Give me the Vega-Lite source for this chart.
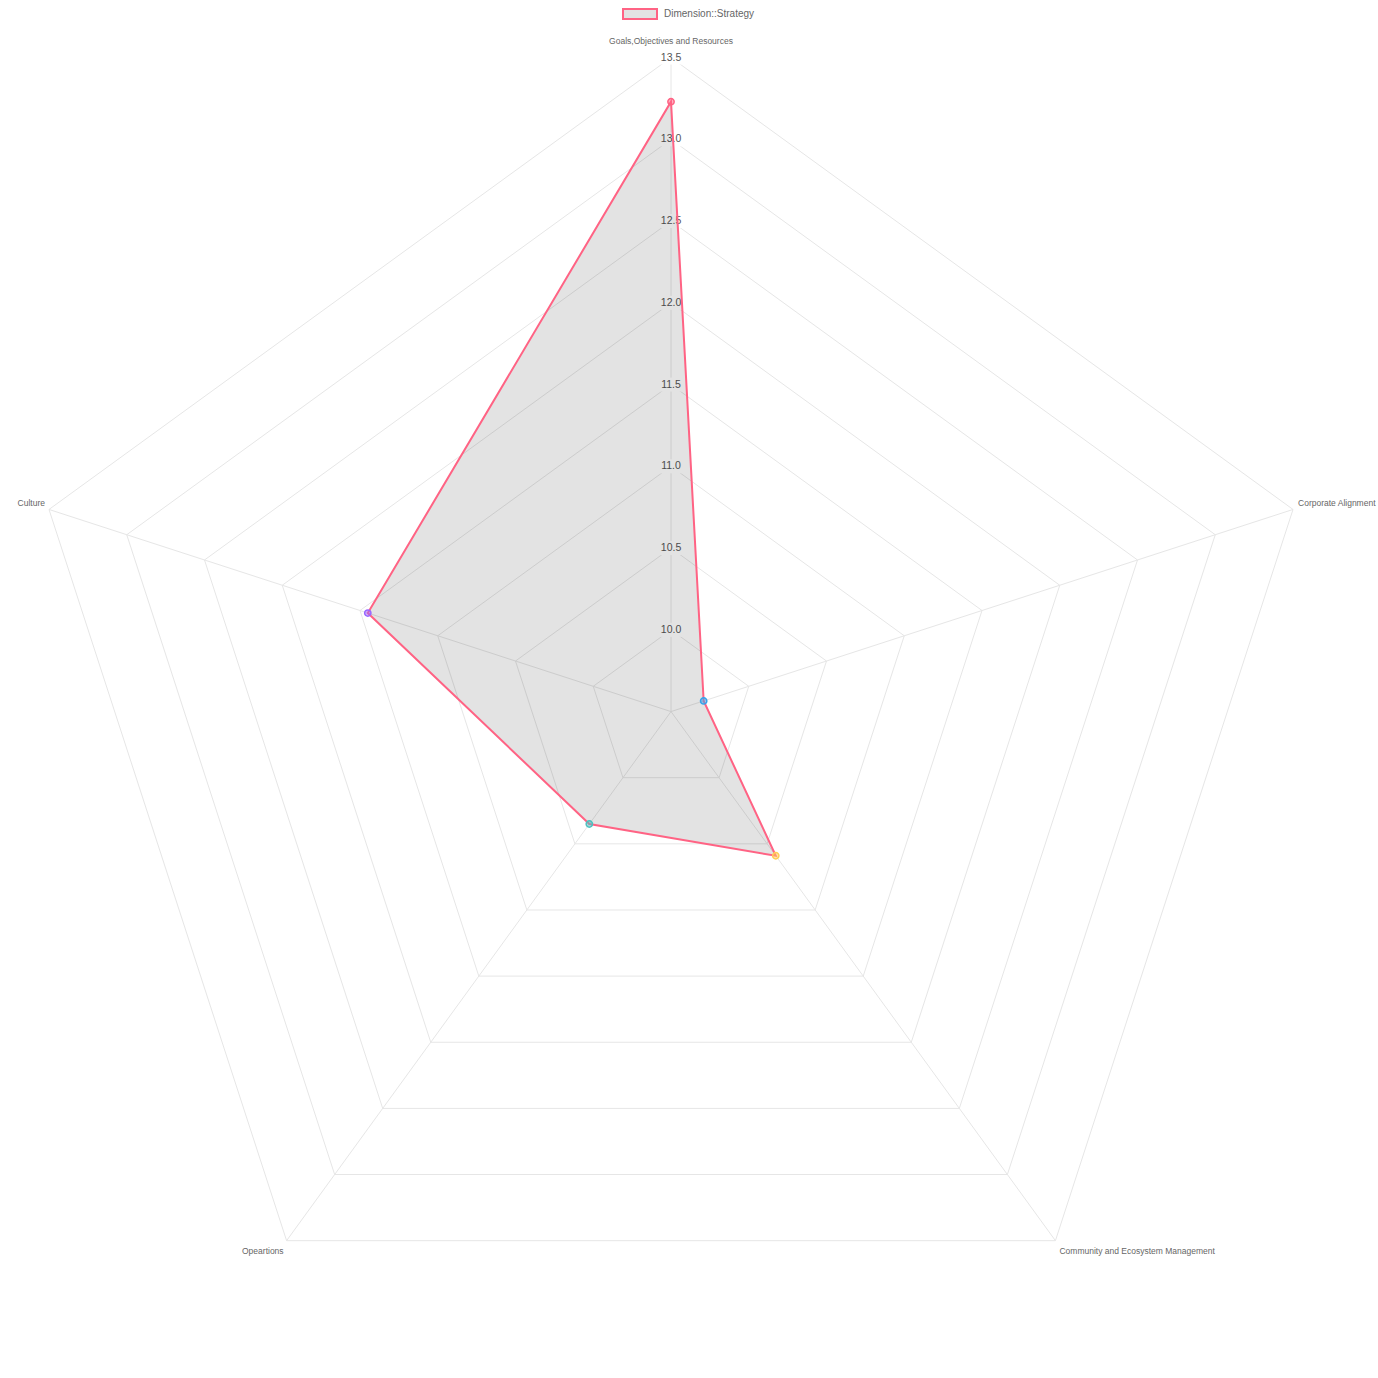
{
  "$schema": "https://vega.github.io/schema/vega-lite/v6.json",
  "width": 1378,
  "height": 1378,
  "autosize": "none",
  "padding": 0,
  "background": "white",
  "config": {"view": {"stroke": null}, "font": "Liberation Sans"},
  "datasets": {
    "scores": [
      {"axis": "Goals,Objectives and Resources", "k": 0, "v": 13.23, "dataset": "Dimension::Strategy"},
      {"axis": "Corporate Alignment", "k": 1, "v": 9.71, "dataset": "Dimension::Strategy"},
      {"axis": "Community and Ecosystem Management", "k": 2, "v": 10.59, "dataset": "Dimension::Strategy"},
      {"axis": "Opeartions", "k": 3, "v": 10.35, "dataset": "Dimension::Strategy"},
      {"axis": "Culture", "k": 4, "v": 11.45, "dataset": "Dimension::Strategy"}
    ],
    "rings": [
      {"v": 10.0, "k": [0, 1, 2, 3, 4]},
      {"v": 10.5, "k": [0, 1, 2, 3, 4]},
      {"v": 11.0, "k": [0, 1, 2, 3, 4]},
      {"v": 11.5, "k": [0, 1, 2, 3, 4]},
      {"v": 12.0, "k": [0, 1, 2, 3, 4]},
      {"v": 12.5, "k": [0, 1, 2, 3, 4]},
      {"v": 13.0, "k": [0, 1, 2, 3, 4]},
      {"v": 13.5, "k": [0, 1, 2, 3, 4]}
    ],
    "ticks": [
      {"v": 10.0}, {"v": 10.5}, {"v": 11.0}, {"v": 11.5},
      {"v": 12.0}, {"v": 12.5}, {"v": 13.0}, {"v": 13.5}
    ]
  },
  "encoding": {
    "x": {"field": "x", "type": "quantitative", "scale": {"domain": [-4.104, 4.324], "nice": false, "zero": false}, "axis": null},
    "y": {"field": "y", "type": "quantitative", "scale": {"domain": [-4.076, 4.352], "nice": false, "zero": false}, "axis": null}
  },
  "layer": [
    {
      "data": {"name": "rings"},
      "transform": [
        {"flatten": ["k"]},
        {"calculate": "datum.v - 9.5", "as": "r"},
        {"calculate": "datum.k * 2 * PI / 5", "as": "a"},
        {"calculate": "datum.r * sin(datum.a)", "as": "x"},
        {"calculate": "datum.r * cos(datum.a)", "as": "y"}
      ],
      "mark": {"type": "line", "interpolate": "linear-closed", "stroke": "#e6e6e6", "strokeWidth": 1},
      "encoding": {
        "detail": {"field": "v", "type": "nominal"},
        "order": {"field": "k", "type": "quantitative"}
      }
    },
    {
      "data": {"name": "scores"},
      "transform": [
        {"calculate": "datum.k * 2 * PI / 5", "as": "a"},
        {"calculate": "4 * sin(datum.a)", "as": "x"},
        {"calculate": "4 * cos(datum.a)", "as": "y"}
      ],
      "mark": {"type": "rule", "stroke": "#e6e6e6", "strokeWidth": 1},
      "encoding": {
        "x2": {"datum": 0},
        "y2": {"datum": 0}
      }
    },
    {
      "data": {"name": "ticks"},
      "transform": [
        {"calculate": "0", "as": "x"},
        {"calculate": "datum.v - 9.5", "as": "y"}
      ],
      "mark": {"type": "point", "shape": "M-1,-0.54H1V0.54H-1Z", "size": 676, "filled": true, "fill": "white", "opacity": 1, "strokeWidth": 0}
    },
    {
      "data": {"name": "ticks"},
      "transform": [
        {"calculate": "0", "as": "x"},
        {"calculate": "datum.v - 9.5", "as": "y"}
      ],
      "mark": {"type": "text", "fontSize": 10.5, "color": "#555", "align": "center", "baseline": "middle"},
      "encoding": {
        "text": {"field": "v", "type": "quantitative", "format": ".1f"}
      }
    },
    {
      "data": {"name": "scores"},
      "transform": [
        {"calculate": "datum.v - 9.5", "as": "r"},
        {"calculate": "datum.k * 2 * PI / 5", "as": "a"},
        {"calculate": "datum.r * sin(datum.a)", "as": "x"},
        {"calculate": "datum.r * cos(datum.a)", "as": "y"}
      ],
      "mark": {"type": "line", "interpolate": "linear-closed", "fill": "#000", "fillOpacity": 0.11, "stroke": null, "strokeWidth": 0},
      "encoding": {
        "order": {"field": "k", "type": "quantitative"}
      }
    },
    {
      "data": {"name": "scores"},
      "transform": [
        {"calculate": "datum.v - 9.5", "as": "r"},
        {"calculate": "datum.k * 2 * PI / 5", "as": "a"},
        {"calculate": "datum.r * sin(datum.a)", "as": "x"},
        {"calculate": "datum.r * cos(datum.a)", "as": "y"}
      ],
      "mark": {"type": "line", "interpolate": "linear-closed", "strokeWidth": 2},
      "encoding": {
        "order": {"field": "k", "type": "quantitative"},
        "color": {
          "field": "dataset", "type": "nominal",
          "scale": {"range": ["#ff6384"]},
          "legend": {
            "orient": "none", "legendX": 622, "legendY": -4, "title": null,
            "symbolType": "M-1,-0.3H1V0.3H-1Z", "symbolSize": 1156, "symbolStrokeWidth": 2,
            "labelFontSize": 10, "labelColor": "#666", "labelOffset": 6, "padding": 0,
            "labelFont": "Liberation Sans",
            "symbolFillColor": "#e3e3e3", "symbolStrokeColor": "#ff6384",
            "symbolOpacity": 1
          }
        }
      }
    },
    {
      "data": {"name": "scores"},
      "transform": [
        {"calculate": "datum.v - 9.5", "as": "r"},
        {"calculate": "datum.k * 2 * PI / 5", "as": "a"},
        {"calculate": "datum.r * sin(datum.a)", "as": "x"},
        {"calculate": "datum.r * cos(datum.a)", "as": "y"}
      ],
      "mark": {"type": "point", "filled": true, "size": 40, "strokeWidth": 1.5, "fillOpacity": 0.5, "strokeOpacity": 1},
      "encoding": {
        "fill": {"field": "axis", "type": "nominal", "legend": null,
          "scale": {"domain": ["Goals,Objectives and Resources", "Corporate Alignment", "Community and Ecosystem Management", "Opeartions", "Culture"],
                    "range": ["#ff6384", "#36a2eb", "#ffcd56", "#4bc0c0", "#9966ff"]}},
        "stroke": {"field": "axis", "type": "nominal", "legend": null,
          "scale": {"domain": ["Goals,Objectives and Resources", "Corporate Alignment", "Community and Ecosystem Management", "Opeartions", "Culture"],
                    "range": ["#ff6384", "#36a2eb", "#ffcd56", "#4bc0c0", "#9966ff"]}}
      }
    },
    {
      "data": {"name": "scores"},
      "transform": [
        {"filter": "datum.k == 0"},
        {"calculate": "datum.k * 2 * PI / 5", "as": "a"},
        {"calculate": "4 * sin(datum.a)", "as": "x"},
        {"calculate": "4 * cos(datum.a)", "as": "y"}
      ],
      "mark": {"type": "text", "fontSize": 8.5, "color": "#666", "align": "center", "baseline": "middle", "dy": -17},
      "encoding": {"text": {"field": "axis", "type": "nominal"}}
    },
    {
      "data": {"name": "scores"},
      "transform": [
        {"filter": "datum.k == 1"},
        {"calculate": "datum.k * 2 * PI / 5", "as": "a"},
        {"calculate": "4 * sin(datum.a)", "as": "x"},
        {"calculate": "4 * cos(datum.a)", "as": "y"}
      ],
      "mark": {"type": "text", "fontSize": 8.5, "color": "#666", "align": "left", "baseline": "middle", "dx": 5, "dy": -6},
      "encoding": {"text": {"field": "axis", "type": "nominal"}}
    },
    {
      "data": {"name": "scores"},
      "transform": [
        {"filter": "datum.k == 2"},
        {"calculate": "datum.k * 2 * PI / 5", "as": "a"},
        {"calculate": "4 * sin(datum.a)", "as": "x"},
        {"calculate": "4 * cos(datum.a)", "as": "y"}
      ],
      "mark": {"type": "text", "fontSize": 8.5, "color": "#666", "align": "left", "baseline": "middle", "dx": 4, "dy": 10},
      "encoding": {"text": {"field": "axis", "type": "nominal"}}
    },
    {
      "data": {"name": "scores"},
      "transform": [
        {"filter": "datum.k == 3"},
        {"calculate": "datum.k * 2 * PI / 5", "as": "a"},
        {"calculate": "4 * sin(datum.a)", "as": "x"},
        {"calculate": "4 * cos(datum.a)", "as": "y"}
      ],
      "mark": {"type": "text", "fontSize": 8.5, "color": "#666", "align": "right", "baseline": "middle", "dx": -3, "dy": 10},
      "encoding": {"text": {"field": "axis", "type": "nominal"}}
    },
    {
      "data": {"name": "scores"},
      "transform": [
        {"filter": "datum.k == 4"},
        {"calculate": "datum.k * 2 * PI / 5", "as": "a"},
        {"calculate": "4 * sin(datum.a)", "as": "x"},
        {"calculate": "4 * cos(datum.a)", "as": "y"}
      ],
      "mark": {"type": "text", "fontSize": 8.5, "color": "#666", "align": "right", "baseline": "middle", "dx": -4, "dy": -6},
      "encoding": {"text": {"field": "axis", "type": "nominal"}}
    }
  ]
}
